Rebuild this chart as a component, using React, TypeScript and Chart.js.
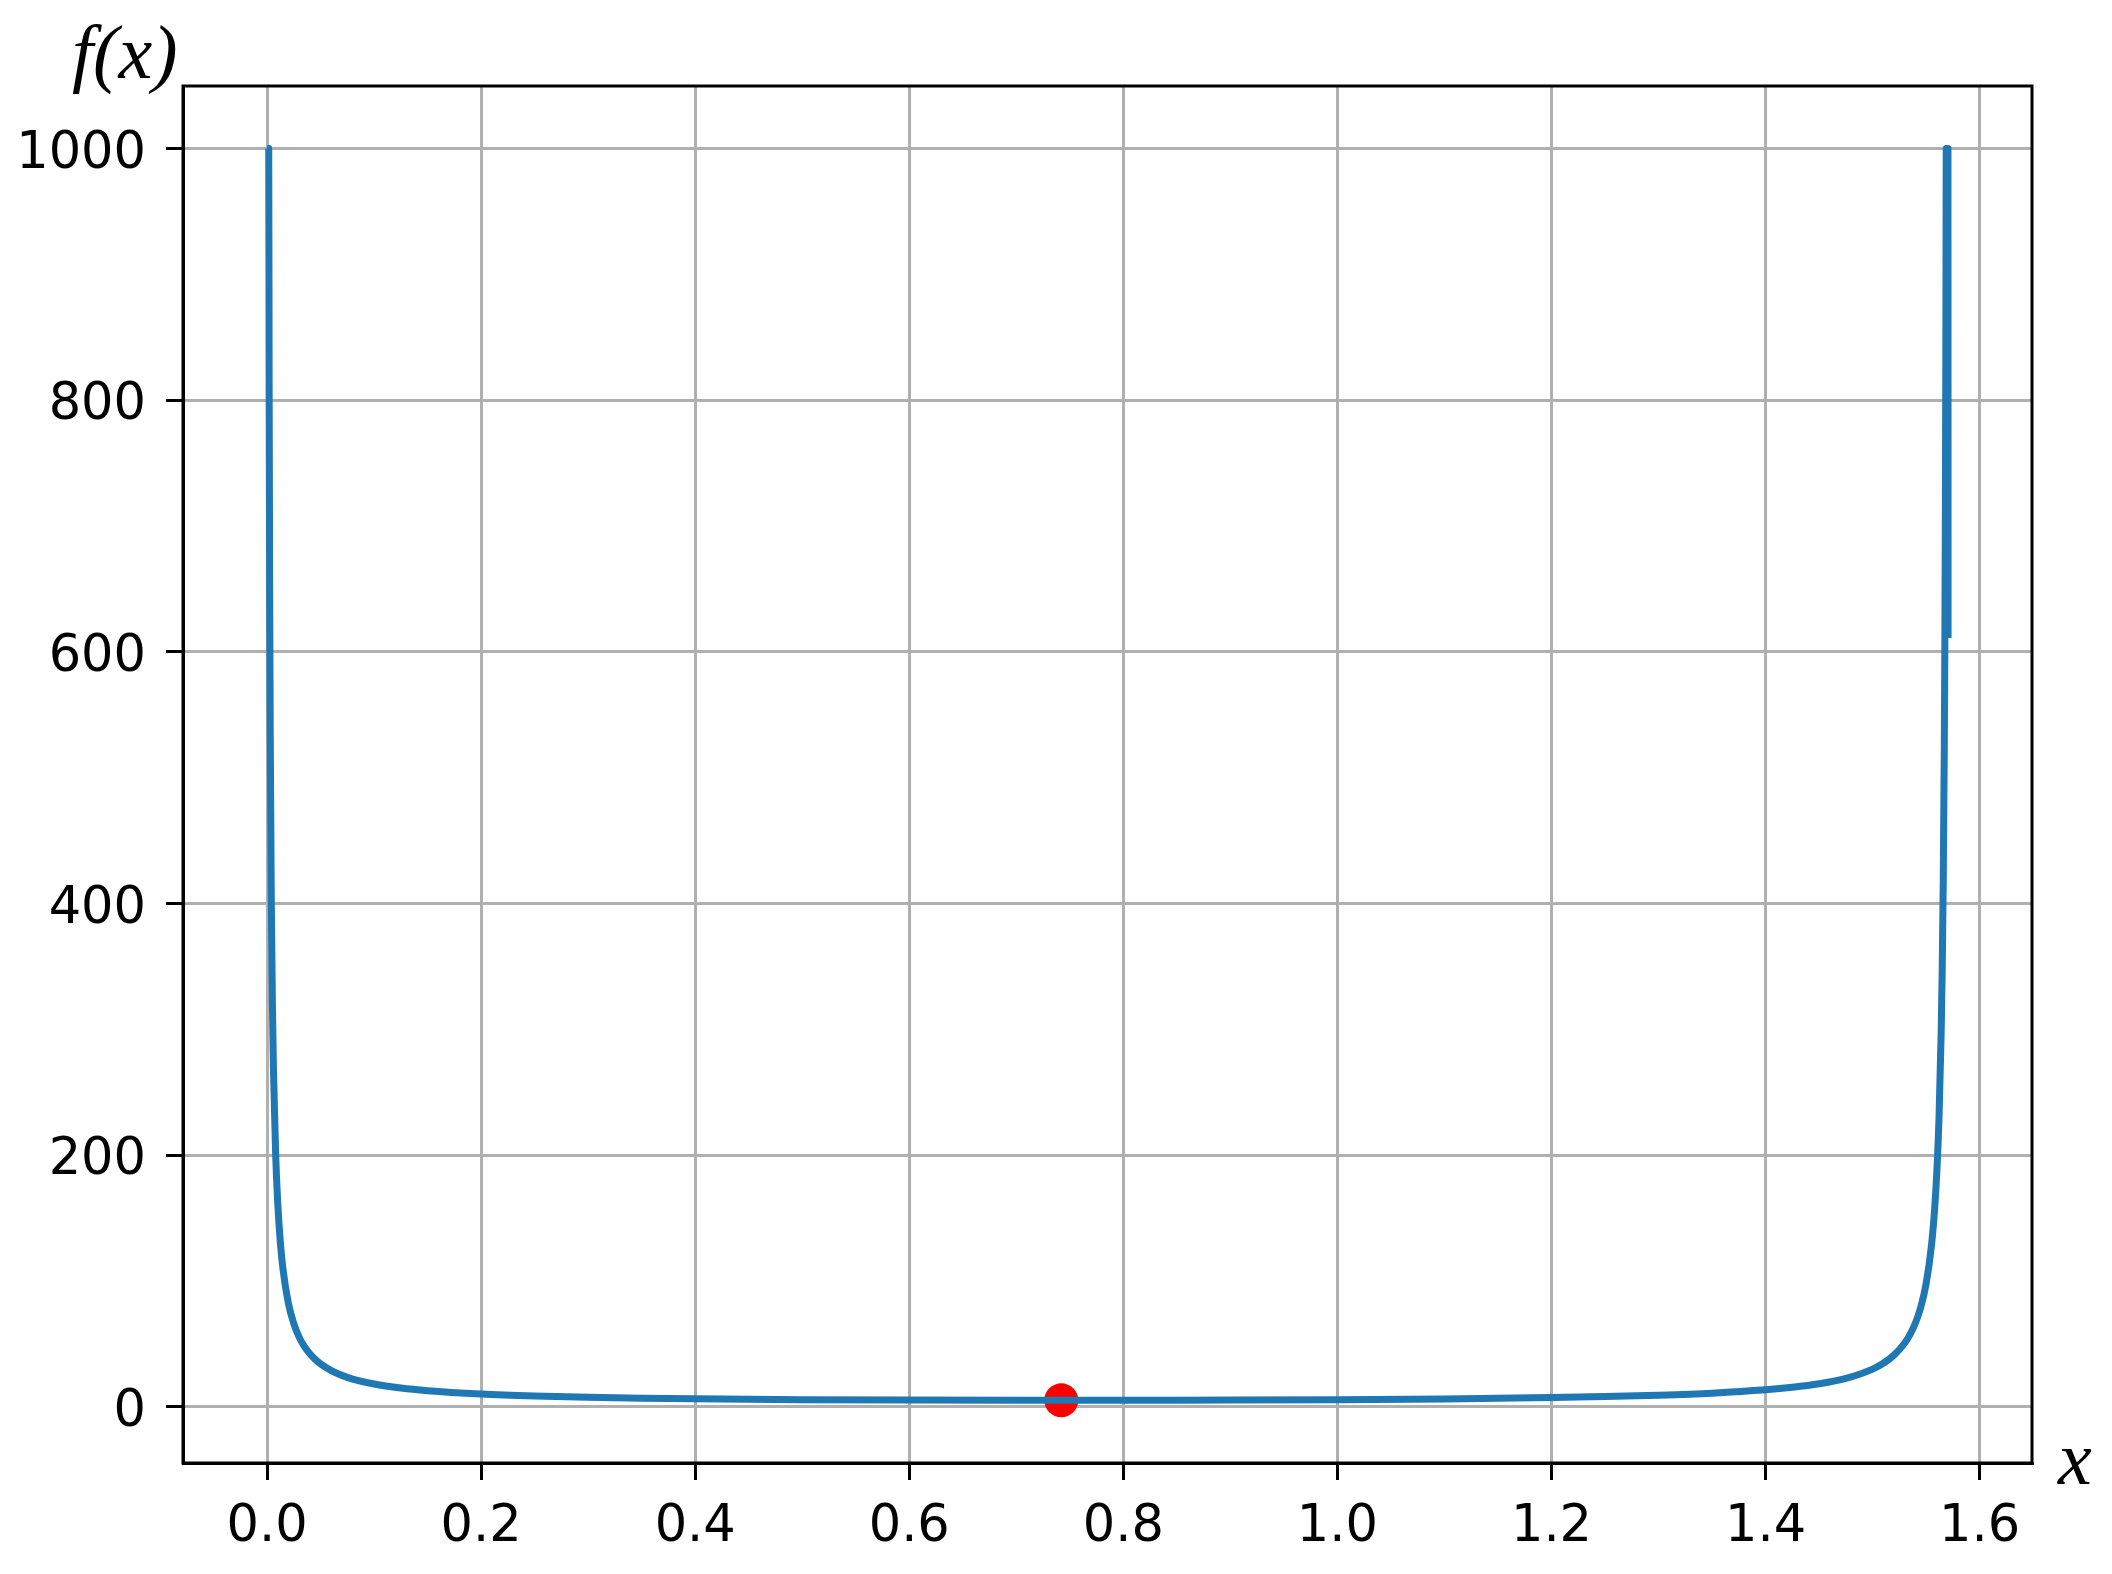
import React, { useEffect, useRef } from "react";
import { Chart, registerables } from "chart.js";

Chart.register(...registerables);

// Curve samples (f(x) clipped at 1000)
const xValues = [
  0.0001, 0.0016, 0.002, 0.0025, 0.003, 0.004, 0.005, 0.006, 0.008, 0.01,
  0.0125, 0.015, 0.02, 0.025, 0.03, 0.035, 0.04, 0.045, 0.05, 0.06,
  0.07, 0.08, 0.1, 0.125, 0.15, 0.2, 0.25, 0.3, 0.35, 0.4,
  0.5, 0.6, 0.7, 0.75, 0.8, 0.9, 1.0, 1.1, 1.2, 1.25,
  1.3, 1.35, 1.4, 1.425, 1.45, 1.475, 1.5, 1.51, 1.52, 1.53,
  1.535, 1.54, 1.545, 1.55, 1.555, 1.558, 1.56, 1.562, 1.564, 1.565,
  1.566, 1.567, 1.5675, 1.568, 1.5685, 1.5688, 1.5704, 1.5705,
];
const yValues = [
  1000, 1000, 802, 642, 535, 402, 322, 268.7, 202, 162,
  130, 108.7, 82, 66, 55.3, 47.7, 42, 37.6, 34, 28.7,
  24.9, 22, 18, 14.8, 12.7, 10.1, 8.53, 7.51, 6.8, 6.28,
  5.62, 5.26, 5.1, 5.08, 5.1, 5.26, 5.6, 6.2, 7.24, 8.03,
  9.14, 10.77, 13.4, 15.4, 18.2, 22.5, 29.9, 34.5, 41, 50.6,
  57.5, 66.5, 79.1, 97.8, 128.2, 157.9, 186.8, 228.9, 295.7, 346.4,
  418.3, 527.9, 607.7, 715.9, 871.2, 1000, 1000, 611,
];

// Marked minimum
const minimumX = [0.742];
const minimumY = [5.05];

// Axes
const xTicks = [0, 0.2, 0.4, 0.6, 0.8, 1.0, 1.2, 1.4, 1.6];
const yTicks = [0, 200, 400, 600, 800, 1000];
const xRange = [-0.0785, 1.6489];
const yRange = [-44.75, 1049.75];
const xTitle = "x";
const yTitle = "f(x)";

const tickFont = { family: "'DejaVu Sans', sans-serif", size: 51 };

const framePlugin = {
  id: "frameAndTitles",
  afterDatasetsDraw(chart: any) {
    const { ctx, chartArea } = chart;
    const { left, right, top, bottom } = chartArea;
    ctx.save();
    ctx.strokeStyle = "#000";
    ctx.lineWidth = 3;
    ctx.strokeRect(left, top, right - left, bottom - top);
    ctx.restore();
  },
  afterDraw(chart: any) {
    const { ctx } = chart;
    ctx.save();
    ctx.fillStyle = "#000";
    ctx.font = "italic 76px 'Liberation Serif', serif";
    ctx.textAlign = "left";
    ctx.textBaseline = "alphabetic";
    ctx.fillText(yTitle, 72, 78);
    ctx.fillText(xTitle, 2058, 1484);
    ctx.restore();
  },
};

export default function App() {
  const canvasRef = useRef<HTMLCanvasElement | null>(null);

  useEffect(() => {
    if (!canvasRef.current) return;
    const curve = xValues.map((x, i) => ({ x, y: yValues[i] }));
    const dot = minimumX.map((x, i) => ({ x, y: minimumY[i] }));
    const chart = new Chart(canvasRef.current, {
      type: "scatter",
      data: {
        datasets: [
          {
            data: curve,
            showLine: true,
            borderColor: "#1f77b4",
            backgroundColor: "#1f77b4",
            borderWidth: 7,
            pointRadius: 0,
            pointHoverRadius: 0,
            cubicInterpolationMode: "monotone",
            fill: false,
            borderJoinStyle: "round",
          },
          {
            data: dot,
            showLine: false,
            pointRadius: 17,
            pointHoverRadius: 17,
            backgroundColor: "#ff0000",
            borderColor: "#ff0000",
            borderWidth: 0,
          },
        ],
      },
      options: {
        animation: false,
        responsive: true,
        maintainAspectRatio: false,
        devicePixelRatio: 1,
        events: [],
        layout: { padding: { left: 0, right: 80, top: 86, bottom: 0 } },
        plugins: {
          legend: { display: false },
          tooltip: { enabled: false },
        },
        scales: {
          x: {
            type: "linear",
            position: "bottom",
            min: xRange[0],
            max: xRange[1],
            afterBuildTicks: (s: any) => {
              s.ticks = xTicks.map((v) => ({ value: v }));
            },
            afterFit: (s: any) => {
              s.height = 111;
            },
            ticks: {
              callback: (v: any) => Number(v).toFixed(1),
              font: tickFont,
              color: "#000",
              padding: 17,
              maxRotation: 0,
              autoSkip: false,
            },
            grid: {
              color: "#b0b0b0",
              lineWidth: 3,
              tickColor: "#000",
              tickLength: 17,
              tickWidth: 3,
            },
            border: { color: "#000", width: 3 },
          },
          y: {
            type: "linear",
            position: "left",
            min: yRange[0],
            max: yRange[1],
            afterBuildTicks: (s: any) => {
              s.ticks = yTicks.map((v) => ({ value: v }));
            },
            afterFit: (s: any) => {
              s.width = 183;
            },
            ticks: {
              callback: (v: any) => String(v),
              font: tickFont,
              color: "#000",
              padding: 20,
              labelOffset: 6,
              autoSkip: false,
            },
            grid: {
              color: "#b0b0b0",
              lineWidth: 3,
              tickColor: "#000",
              tickLength: 17,
              tickWidth: 3,
            },
            border: { color: "#000", width: 3 },
          },
        },
      },
      plugins: [framePlugin],
    });
    return () => chart.destroy();
  }, []);

  return (
    <div style={{ position: "absolute", left: 0, top: 0, width: 2112, height: 1574, background: "#fff" }}>
      <canvas ref={canvasRef} />
    </div>
  );
}
